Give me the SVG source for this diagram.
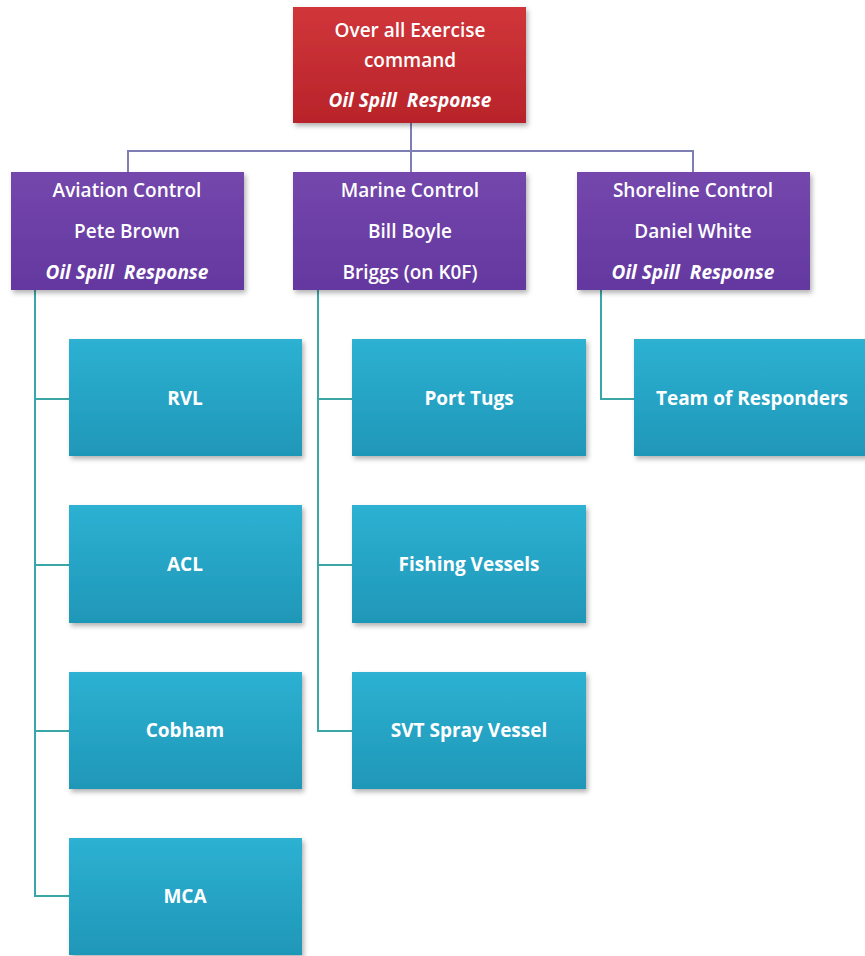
<svg xmlns="http://www.w3.org/2000/svg" width="865" height="956" viewBox="0 0 865 956">
<defs>
<linearGradient id="gRed" x1="0" y1="0" x2="0" y2="1"><stop offset="0" stop-color="#D0363A"/><stop offset="1" stop-color="#B8232A"/></linearGradient>
<linearGradient id="gPur" x1="0" y1="0" x2="0" y2="1"><stop offset="0" stop-color="#7447AC"/><stop offset="1" stop-color="#6438A0"/></linearGradient>
<linearGradient id="gTeal" x1="0" y1="0" x2="0" y2="1"><stop offset="0" stop-color="#2DB1D2"/><stop offset="1" stop-color="#1F97B8"/></linearGradient>
<filter id="sh" x="-10%" y="-10%" width="125%" height="130%"><feDropShadow dx="2" dy="3" stdDeviation="2.5" flood-color="#000" flood-opacity="0.3"/></filter>
</defs>
<style>
.red{fill:url(#gRed);filter:url(#sh)}
.pur{fill:url(#gPur);filter:url(#sh)}
.teal{fill:url(#gTeal);filter:url(#sh)}
text{font-family:"Open Sans","Liberation Sans",sans-serif;fill:#FFFFFF;text-anchor:middle;dominant-baseline:central;white-space:pre}
.h{font-size:19px;font-weight:600}
.i{font-size:19px;font-weight:bold;font-style:italic}
.t{font-size:19px;font-weight:bold}
.cp{stroke:#7E7EB4;stroke-width:2;fill:none}
.ct{stroke:#3AA6A6;stroke-width:2;fill:none}
</style>
<rect width="865" height="956" fill="#FFFFFF"/>
<g id="connectors">
<path class="cp" d="M411 123 V172 M128 172 V151 H693 V172"/>
<path class="ct" d="M35 290 V896 H69 M35 399 H69 M35 565 H69 M35 731 H69"/>
<path class="ct" d="M318 290 V731 H352 M318 399 H352 M318 565 H352"/>
<path class="ct" d="M601 290 V399 H634"/>
</g>
<g id="n-top">
<rect class="red" x="293" y="7" width="233" height="116"/>
<text class="h" x="410" y="30">Over all Exercise</text>
<text class="h" x="410" y="60">command</text>
<text class="i" x="410" y="100">Oil Spill  Response</text>
</g>
<g id="n-aviation">
<rect class="pur" x="11" y="172" width="233" height="118"/>
<text class="h" x="127" y="190">Aviation Control</text>
<text class="h" x="127" y="231">Pete Brown</text>
<text class="i" x="127" y="272">Oil Spill  Response</text>
</g>
<g id="n-marine">
<rect class="pur" x="293" y="172" width="233" height="118"/>
<text class="h" x="410" y="190">Marine Control</text>
<text class="h" x="410" y="231">Bill Boyle</text>
<text class="h" x="410" y="272">Briggs (on K0F)</text>
</g>
<g id="n-shoreline">
<rect class="pur" x="577" y="172" width="233" height="118"/>
<text class="h" x="693" y="190">Shoreline Control</text>
<text class="h" x="693" y="231">Daniel White</text>
<text class="i" x="693" y="272">Oil Spill  Response</text>
</g>
<g id="n-rvl"><rect class="teal" x="69" y="339" width="233" height="117"/><text class="t" x="185" y="398">RVL</text></g>
<g id="n-acl"><rect class="teal" x="69" y="505" width="233" height="118"/><text class="t" x="185" y="564">ACL</text></g>
<g id="n-cobham"><rect class="teal" x="69" y="672" width="233" height="117"/><text class="t" x="185" y="730">Cobham</text></g>
<g id="n-mca"><rect class="teal" x="69" y="838" width="233" height="117"/><text class="t" x="185" y="896">MCA</text></g>
<g id="n-porttugs"><rect class="teal" x="352" y="339" width="234" height="117"/><text class="t" x="469" y="398">Port Tugs</text></g>
<g id="n-fishing"><rect class="teal" x="352" y="505" width="234" height="118"/><text class="t" x="469" y="564">Fishing Vessels</text></g>
<g id="n-svt"><rect class="teal" x="352" y="672" width="234" height="117"/><text class="t" x="469" y="730">SVT Spray Vessel</text></g>
<g id="n-team"><rect class="teal" x="634" y="339" width="240" height="117"/><text class="t" x="752" y="398">Team of Responders</text></g>
</svg>
